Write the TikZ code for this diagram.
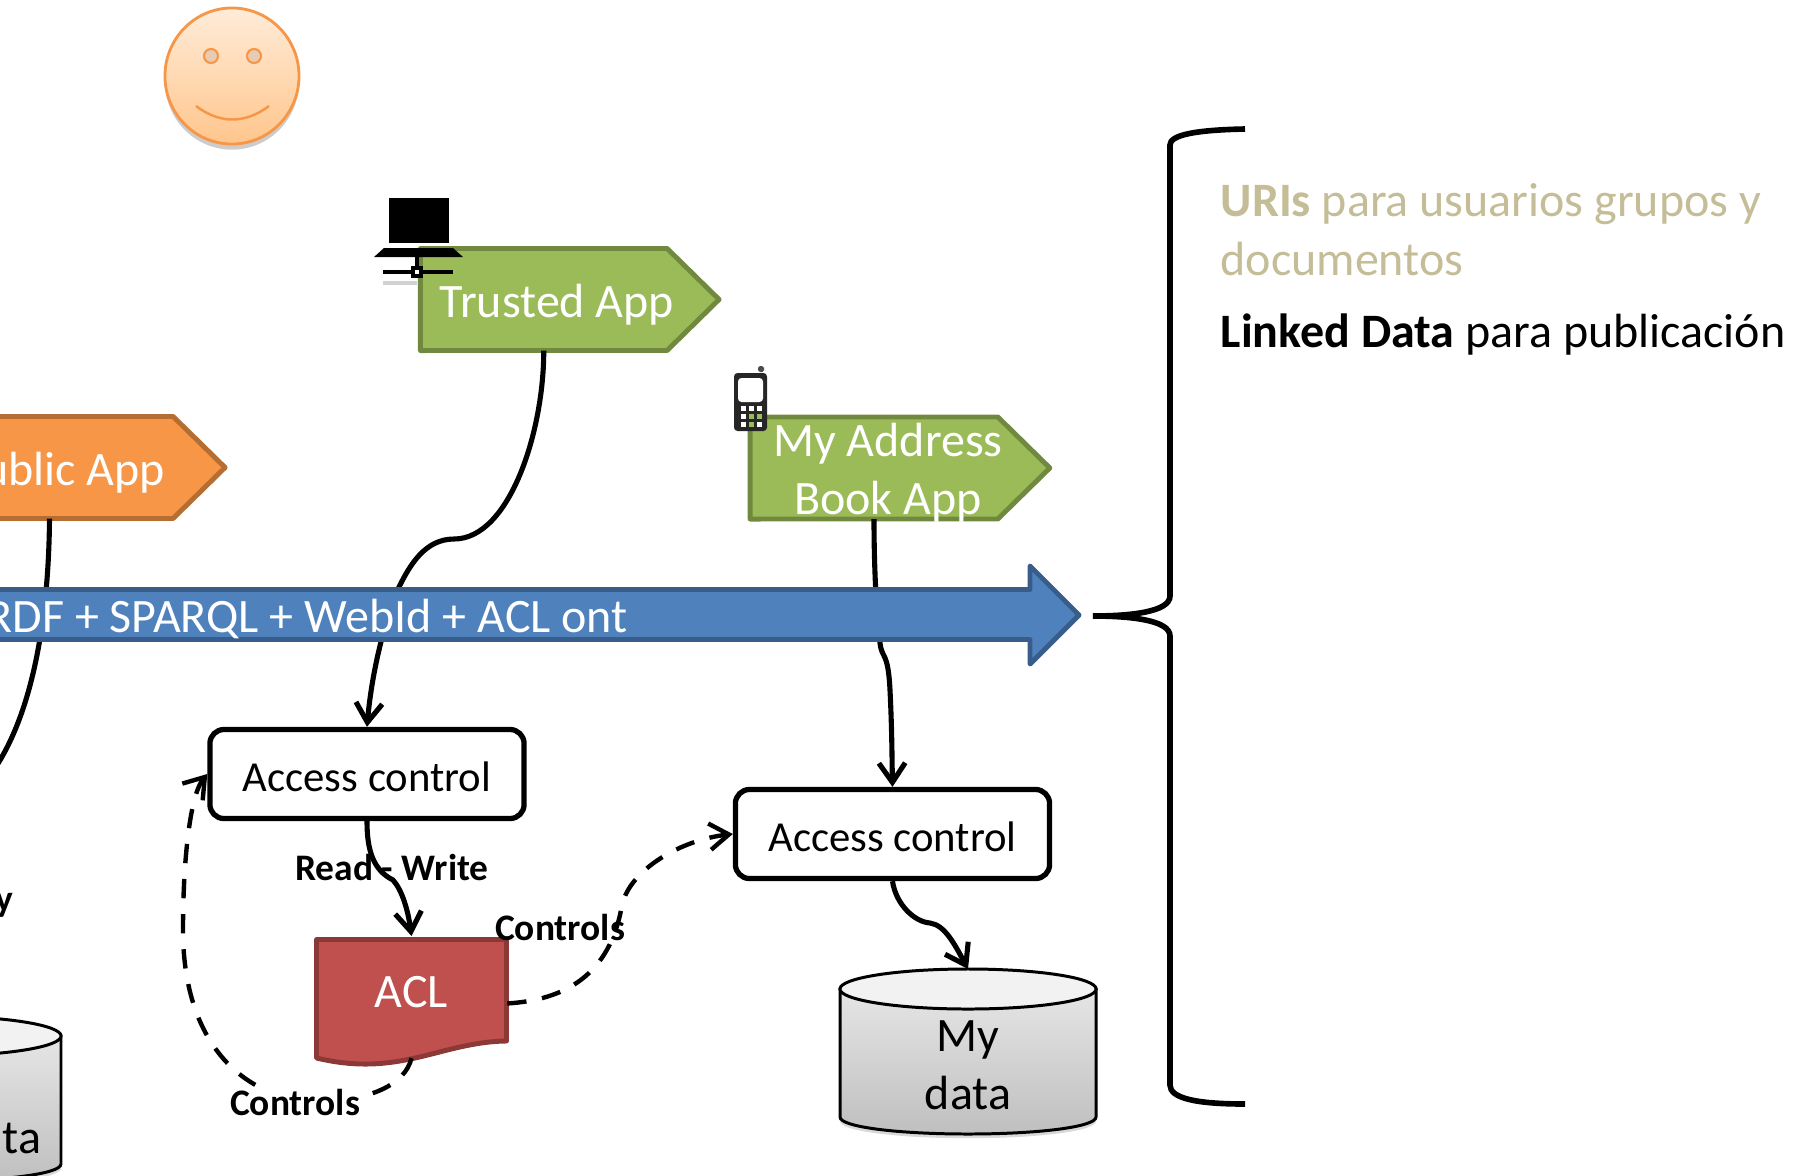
\documentclass[tikz,border=0pt]{standalone}
\usepackage{fontspec}
\setmainfont{Carlito}
\usetikzlibrary{arrows.meta,shadows}
\definecolor{appgreen}{HTML}{9BBB59}
\definecolor{appgreenline}{HTML}{71893F}
\definecolor{apporange}{HTML}{F79646}
\definecolor{apporangeline}{HTML}{B66D31}
\definecolor{busblue}{HTML}{4F81BD}
\definecolor{busblueline}{HTML}{385D8A}
\definecolor{aclred}{HTML}{C0504D}
\definecolor{aclredline}{HTML}{8C3836}
\definecolor{tan}{HTML}{C4BD97}
\newcommand*{\bigfont}{\fontsize{13.65}{16.5}\selectfont}
\newcommand*{\signshape}[2]{
  \draw[#2, line width=1.4pt, line join=round] (#1.north west) -- (#1.north east)
    -- ++(52,51) -- ++(-52,51) -- (#1.south west) -- cycle;
}
\tikzset{
  signbody/.style = { inner sep=0pt, outer sep=0pt, minimum width=#1, minimum height=1.02cm },
  whitetext/.style = { text=white, font=\bigfont, align=center, inner sep=0pt },
  accessbox/.style = { draw, line width=1.5pt, fill=white, rounded corners=4pt, font=\fontsize{12.15}{14}\selectfont,
     minimum width=3.14cm, minimum height=0.89cm, inner sep=0pt, text height=10pt },
  flow/.style = { line width=1.45pt, -{Straight Barb[length=5.5pt,width=7.5pt]} },
  dashflow/.style = { flow, line width=1.25pt, dash pattern=on 5.5pt off 4.5pt },
  boldlabel/.style = { font=\fontsize{10.65}{13}\selectfont\bfseries, inner sep=0pt },
  bigtext/.style = { font=\bigfont, anchor=base west, inner sep=0pt, align=left },
  datastore/.pic = {
    \draw[line width=0.85pt, top color=gray!20, bottom color=gray!50,
        drop shadow={shadow xshift=0pt,shadow yshift=-1.2pt,opacity=.3}]
      (-128,20) -- (-128,148) .. controls (-128,158) and (-70,165) .. (0,165)
      .. controls (70,165) and (128,158) .. (128,148) -- (128,20) -- cycle;
    \draw[line width=0.85pt, fill=gray!10] (0,20) ellipse [x radius=1.28cm, y radius=0.2cm];
    \coordinate (-top) at (0,0);
  },
  laptop/.pic = {
    \fill (389,198) rectangle (449,243);
    \fill (384,248) -- (453,248) -- (463,257) -- (374,257) -- cycle;
    \draw[line width=1pt] (417,257) -- (417,272);
    \draw[line width=1pt] (383,272) -- (453,272);
    \draw[gray!35, line width=1pt] (383,283) -- (417,283);
    \draw[line width=1pt, fill=white] (413,268) rectangle (421,276);
  },
  phone/.pic = {
    \fill[black!85, rounded corners=1pt] (0,0) rectangle (33,58);
    \fill[white, rounded corners=1pt] (4,5) rectangle (29,29);
    \fill[black!70, rounded corners=0.5pt] (24,-7) rectangle (30,-1);
    \foreach \x in {9,17,25}{
      \foreach \y in {35,43,51}{
        \fill[white] (\x-2.5,\y-2.5) rectangle (\x+2.5,\y+2.5);
      }
    }
    \foreach \x/\y in {17/43,25/43,17/51}{
      \fill[appgreen] (\x-2.5,\y-2.5) rectangle (\x+2.5,\y+2.5);
    }
  },
}

\begin{document}
\begin{tikzpicture}[x=0.01cm,y=-0.01cm]
  \useasboundingbox (0,0) rectangle (1799,1175);

  % face
  \draw[apporange, line width=0.8pt, top color=orange!15, bottom color=orange!45!white,
      drop shadow={shadow xshift=0pt,shadow yshift=-1.6pt,opacity=.4}]
    (232,76) ellipse [x radius=0.67cm, y radius=0.68cm];
  \draw[apporange, line width=0.6pt, fill=brown!40!white] (211,56) circle [radius=0.07cm];
  \draw[apporange, line width=0.6pt, fill=brown!40!white] (254,56) circle [radius=0.07cm];
  \draw[apporange, line width=0.7pt] (196,106) .. controls (220,124) and (245,124) .. (269,106);

  % apps
  \node[signbody=2.47cm] (public) at (49.5,467.5) {};
  \signshape{public}{fill=apporange, draw=apporangeline}
  \node[whitetext, anchor=east] (publiclabel) at (166,472.5) {ublic App};

  \node[signbody=2.465cm] (trusted) at (543.75,299.5) {};
  \signshape{trusted}{fill=appgreen, draw=appgreenline}
  \node[whitetext] (trustedlabel) at (557,305) {Trusted App};

  \node[signbody=2.475cm] (address) at (874,468) {};
  \signshape{address}{fill=appgreen, draw=appgreenline}
  \node[whitetext] (addresslabel) at (888,472.5) {My Address\\Book App};

  \pic at (0,0) {laptop};
  \pic at (734,373) {phone};

  % boxes and stores
  \node[accessbox] (accessone) at (367,774) {Access control};
  \node[accessbox] (accesstwo) at (892.5,834) {Access control};
  \pic (mine) at (968,969) {datastore};
  \pic (yours) at (-67,1016) {datastore};
  \node[font=\bigfont, align=center, inner sep=0pt] (minelabel) at (968,1065) {My\\data};
  \node[font=\bigfont, inner sep=0pt, anchor=west] (yourslabel) at (2,1138) {ta};

  % connectors, the bus goes over them
  \coordinate (publicend) at (-12,778);
  \draw[line width=1.45pt] (public.south) .. controls (49,590) and (40,710) .. (publicend);
  \draw[flow] (trusted.south) .. controls (544,430) and (510,539) .. (454,539)
    .. controls (425,539) and (410,565) .. (399,587)
    .. controls (385,620) and (372,670) .. (accessone.north);
  \draw[flow] (address.south) .. controls (874,550) and (875,600) .. (880,643)
    .. controls (882,660) and (888,650) .. (890,690) .. controls (892,730) and (892,760) .. (accesstwo.north);
  \draw[flow] (accessone.south) .. controls (367,850) and (373,870) .. (393,880)
    .. controls (402,890) and (408,910) .. (411.5,936);
  \draw[flow] (accesstwo.south) .. controls (896,905) and (915,922) .. (930,923)
    .. controls (945,925) and (955,945) .. (mine-top);

  % bus
  \draw[fill=busblue, draw=busblueline, line width=1.4pt, line join=round]
    (-10,589.5) -- (1030,589.5) -- (1030,566) -- (1079,615) -- (1030,664) -- (1030,639.5) -- (-10,639.5) -- cycle;
  \node[whitetext, anchor=east] (buslabel) at (628.5,618.5) {RDF + SPARQL + WebId + ACL ont};

  % acl
  \draw[fill=aclred, draw=aclredline, line width=1.4pt, line join=round]
    (316.5,939.5) -- (506.5,939.5) -- (506.5,1041) .. controls (440,1042) and (400,1078) .. (316.5,1058) -- cycle;
  \node[inner sep=0pt, minimum width=1.9cm, minimum height=1.01cm, text=white, font=\bigfont, text height=10pt] (acl) at (411.5,990) {ACL};

  \draw[dashflow] (acl.-8) .. controls (565,1000) and (610,975) .. (622,905)
    .. controls (630,870) and (680,840) .. (accesstwo.west);
  \draw[dashflow] ([yshift=-4.8pt]acl.south) .. controls (405,1085) and (370,1100) .. (320,1102)
    .. controls (240,1100) and (183,1040) .. (183,930)
    .. controls (183,860) and (190,795) .. (accessone.west);

  \node[boldlabel] (readwrite) at (392,867) {Read - Write};
  \node[boldlabel] (controlsright) at (560,927) {Controls};
  \node[boldlabel, fill=white] (controlsbottom) at (295,1102) {Controls};
  \node[boldlabel, anchor=east] (onlylabel) at (14,905) {y};

  % brace and notes
  \draw[line width=1.6pt] (1245,129) .. controls (1195,130) and (1170,135) .. (1170,145)
    -- (1170,596) .. controls (1170,612) and (1130,616) .. (1093,616)
    .. controls (1130,616) and (1170,620) .. (1170,636)
    -- (1170,1085) .. controls (1170,1098) and (1195,1104) .. (1245,1104);
  \node[bigtext, text=tan] (uris) at (1220,275) {\textbf{URIs} para usuarios grupos y\\documentos};
  \node[bigtext] (linked) at (1220,347) {\textbf{Linked Data} para publicación};
\end{tikzpicture}
\end{document}
